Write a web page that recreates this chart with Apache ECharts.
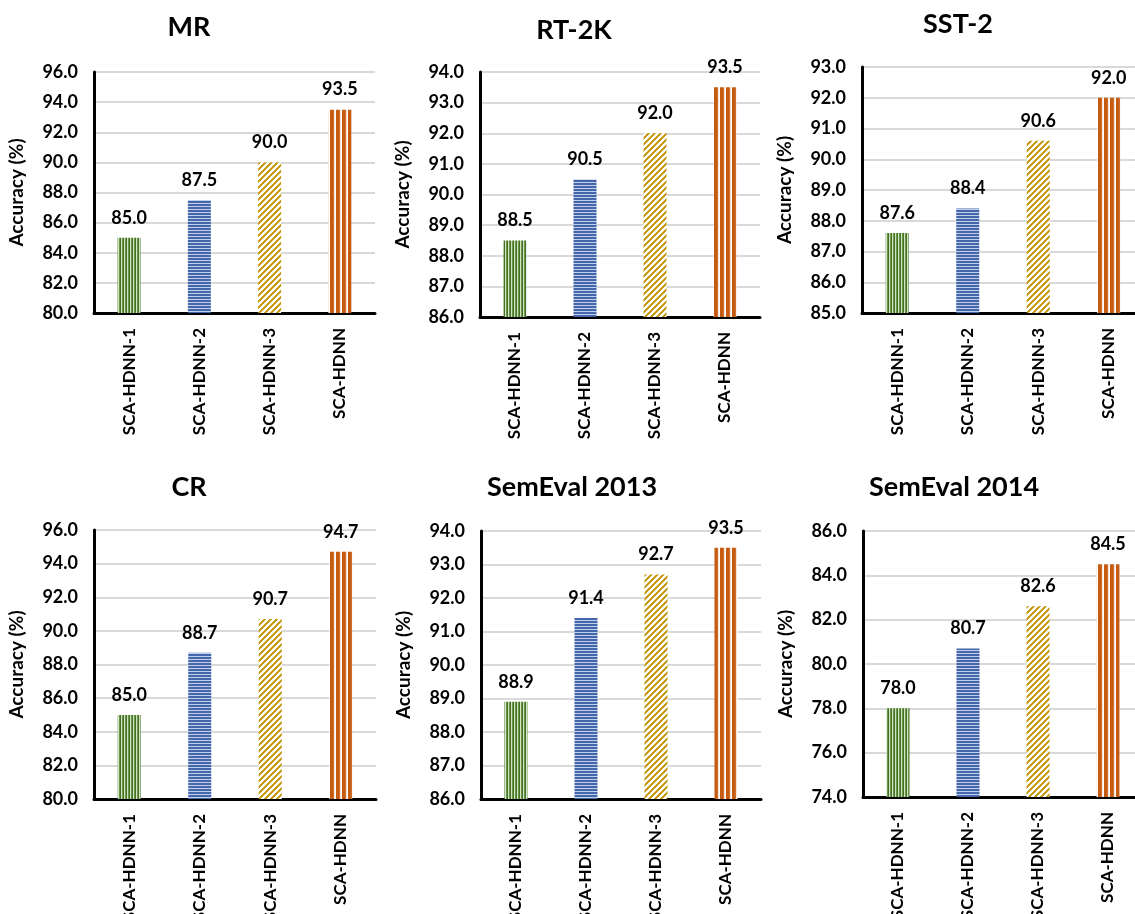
<!DOCTYPE html>
<html>
<head>
<meta charset="utf-8">
<title>Accuracy of SCA-HDNN variants</title>
<script src="https://cdn.jsdelivr.net/npm/echarts@6.0.0/dist/echarts.min.js"></script>
<style>
  html, body { margin: 0; padding: 0; background: #ffffff; }
  #chart { width: 1135px; height: 914px; }
</style>
</head>
<body>
<div id="chart"></div>
<script>
// Model variants (x categories)
const categories = ['SCA-HDNN-1', 'SCA-HDNN-2', 'SCA-HDNN-3', 'SCA-HDNN'];

// Benchmark dataset names, one panel each
const datasetNames = ['MR', 'RT-2K', 'SST-2', 'CR', 'SemEval 2013', 'SemEval 2014'];

// Accuracy (%) per dataset, in category order
const accMR        = [85.0, 87.5, 90.0, 93.5];
const accRT2K      = [88.5, 90.5, 92.0, 93.5];
const accSST2      = [87.6, 88.4, 90.6, 92.0];
const accCR        = [85.0, 88.7, 90.7, 94.7];
const accSemEval13 = [88.9, 91.4, 92.7, 93.5];
const accSemEval14 = [78.0, 80.7, 82.6, 84.5];

// Y axis tick range per panel
const yMin  = [80, 86, 85, 80, 86, 74];
const yMax  = [96, 94, 93, 96, 94, 86];
const yStep = [2, 1, 1, 2, 1, 2];

const allAccuracy = [accMR, accRT2K, accSST2, accCR, accSemEval13, accSemEval14];

// ---- panel placement (pixels) ----
const panels = [
  { left: 94,  top: 72,  width: 281, height: 241, titleX: 189, titleY: 27 },
  { left: 480, top: 72,  width: 280, height: 245, titleX: 574, titleY: 30 },
  { left: 862, top: 67,  width: 282, height: 246, titleX: 958, titleY: 24 },
  { left: 94,  top: 530, width: 282, height: 269, titleX: 189, titleY: 487 },
  { left: 481, top: 531, width: 280, height: 268, titleX: 572, titleY: 487 },
  { left: 863, top: 531, width: 280, height: 266, titleX: 954, titleY: 487 }
];

const FONT = 'Lato, "Open Sans", "Noto Sans", sans-serif';

// ---- striped fills ----
function makePattern(w, h, painter) {
  const c = document.createElement('canvas');
  c.width = w; c.height = h;
  const ctx = c.getContext('2d');
  ctx.fillStyle = '#ffffff';
  ctx.fillRect(0, 0, w, h);
  painter(ctx, w, h);
  return { image: c, repeat: 'repeat' };
}

// green: fine vertical stripes
const greenFill = makePattern(3, 4, (ctx, w, h) => {
  ctx.fillStyle = '#456f27'; ctx.fillRect(0, 0, 1, h);
  ctx.fillStyle = '#d3e4c5'; ctx.fillRect(1, 0, 1, h);
  ctx.fillStyle = '#6b9848'; ctx.fillRect(2, 0, 1, h);
});

// blue: fine horizontal stripes
const blueFill = makePattern(4, 3, (ctx, w, h) => {
  ctx.fillStyle = '#4466aa'; ctx.fillRect(0, 0, w, 2);
  ctx.fillStyle = '#c3d0ea'; ctx.fillRect(0, 2, w, 1);
});

// gold: wide upward diagonal stripes
const goldFill = makePattern(6, 6, (ctx, w, h) => {
  for (let x = 0; x < w; x++) {
    for (let y = 0; y < h; y++) {
      const k = (x + y) % 6;
      if (k < 3) {
        ctx.fillStyle = k === 1 ? '#bf9000' : '#cca52a';
        ctx.fillRect(x, y, 1, 1);
      }
    }
  }
});

// orange: wide vertical stripes
const orangeFill = makePattern(6, 4, (ctx, w, h) => {
  ctx.fillStyle = '#c55a11'; ctx.fillRect(0, 0, 4, h);
  ctx.fillStyle = '#d2702f'; ctx.fillRect(3, 0, 1, h);
  ctx.fillStyle = '#fbe3d3'; ctx.fillRect(4, 0, 1, h);
});

const barFills = [greenFill, blueFill, goldFill, orangeFill];

// ---- option ----
const grid = [], xAxis = [], yAxis = [], series = [], graphic = [];

panels.forEach((p, i) => {
  grid.push({
    left: p.left, top: p.top, width: p.width, height: p.height,
    containLabel: false,
    outerBoundsMode: 'none'
  });

  xAxis.push({
    type: 'category',
    gridIndex: i,
    data: categories,
    axisLine: { show: true, lineStyle: { color: '#000000', width: 3 } },
    axisTick: { show: false },
    axisLabel: {
      interval: 0,
      rotate: 90,
      margin: 15,
      color: '#000000',
      fontFamily: FONT,
      fontWeight: 'bold',
      fontSize: 17
    },
    splitLine: { show: false }
  });

  yAxis.push({
    type: 'value',
    gridIndex: i,
    min: yMin[i],
    max: yMax[i],
    interval: yStep[i],
    name: 'Accuracy (%)',
    nameLocation: 'middle',
    nameGap: 68,
    nameRotate: 90,
    nameTextStyle: { color: '#000000', fontFamily: FONT, fontWeight: 'bold', fontSize: 19 },
    axisLine: { show: true, lineStyle: { color: '#000000', width: 3 } },
    axisTick: { show: false },
    axisLabel: {
      margin: 16,
      color: '#000000',
      fontFamily: FONT,
      fontWeight: 'bold',
      fontSize: 18,
      formatter: v => v.toFixed(1)
    },
    splitLine: { show: true, lineStyle: { color: '#d9d9d9', width: 2 } }
  });

  series.push({
    type: 'bar',
    name: datasetNames[i],
    xAxisIndex: i,
    yAxisIndex: i,
    barWidth: 23,
    data: allAccuracy[i].map((v, j) => ({ value: v, itemStyle: { color: barFills[j] } })),
    label: {
      show: true,
      position: 'top',
      distance: 11,
      color: '#000000',
      fontFamily: FONT,
      fontWeight: 'bold',
      fontSize: 18,
      formatter: d => Number(d.value).toFixed(1)
    },
    silent: true,
    animation: false
  });

  graphic.push({
    type: 'text',
    x: p.titleX,
    y: p.titleY,
    style: {
      text: datasetNames[i],
      fill: '#000000',
      font: 'bold 27px ' + FONT,
      align: 'center',
      verticalAlign: 'middle',
      textAlign: 'center',
      textVerticalAlign: 'middle'
    },
    silent: true
  });
});

const chart = echarts.init(document.getElementById('chart'), null, { renderer: 'canvas' });
chart.setOption({
  backgroundColor: '#ffffff',
  animation: false,
  grid: grid,
  xAxis: xAxis,
  yAxis: yAxis,
  series: series,
  graphic: graphic
});
</script>
</body>
</html>
